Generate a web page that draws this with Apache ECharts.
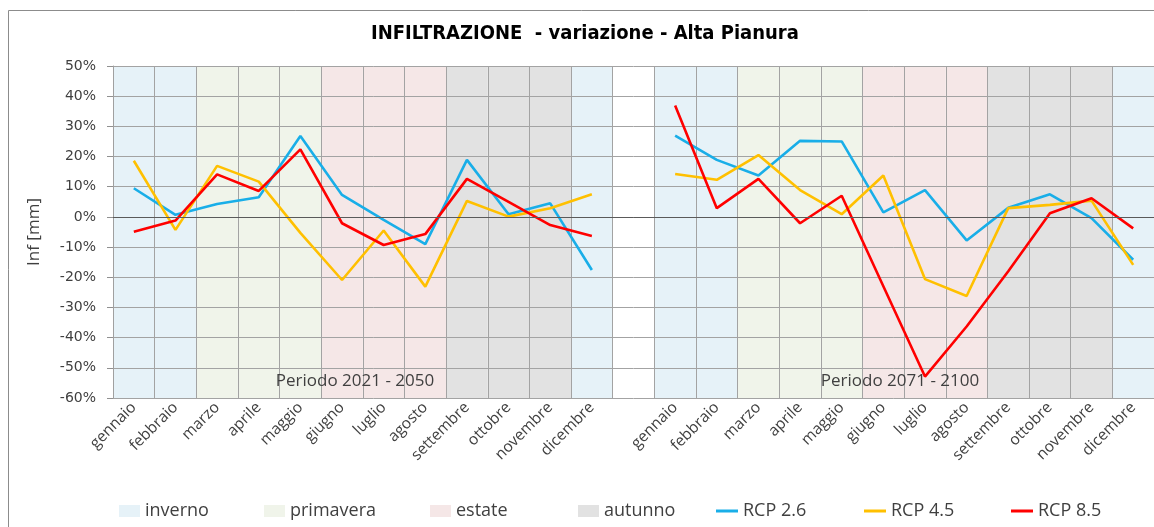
<!DOCTYPE html>
<html>
<head>
<meta charset="utf-8">
<title>Infiltrazione - Alta Pianura</title>
<script src="https://cdn.jsdelivr.net/npm/echarts@6/dist/echarts.min.js"></script>
<style>
  html, body { margin: 0; padding: 0; background: #fff; }
  #chart { width: 1154px; height: 527px; }
</style>
</head>
<body>
<div id="chart"></div>
<script>
// mesi e stagioni
const months = ['gennaio', 'febbraio', 'marzo', 'aprile', 'maggio', 'giugno',
  'luglio', 'agosto', 'settembre', 'ottobre', 'novembre', 'dicembre']
const seasonOfMonth = ['inverno', 'inverno', 'primavera', 'primavera', 'primavera', 'estate',
  'estate', 'estate', 'autunno', 'autunno', 'autunno', 'inverno']
const seasons = ['inverno', 'primavera', 'estate', 'autunno']
const seasonColors = ['#E6F2F8', '#F0F4EA', '#F5E7E7', '#E2E2E2']

// variazione percentuale, periodo 2021 - 2050
const rcp26P1 = [9.5, 0.7, 4.3, 6.5, 26.8, 7.3, -1, -9, 18.9, 0.9, 4.5, -17.6]
const rcp45P1 = [18.6, -4.3, 16.9, 11.7, -5.3, -20.9, -4.5, -23.1, 5.3, 0.1, 2.9, 7.5]
const rcp85P1 = [-4.9, -1.2, 14.1, 8.6, 22.4, -2.1, -9.3, -5.7, 12.6, 5, -2.7, -6.3]
// periodo 2071 - 2100
const rcp26P2 = [26.9, 18.9, 13.7, 25.2, 25, 1.5, 8.9, -7.8, 3, 7.5, -0.4, -14.2]
const rcp45P2 = [14.2, 12.3, 20.5, 8.9, 0.9, 13.7, -20.6, -26.2, 2.9, 4, 5.4, -15.9]
const rcp85P2 = [36.9, 2.9, 12.6, -2.1, 7, -23, -52.9, -36.3, -18, 1.2, 6.2, -3.8]

const yTicks = { min: -60, max: 50, interval: 10 }
const periodLabels = ['Periodo 2021 - 2050', 'Periodo 2071 - 2100']

// asse x: 12 mesi, una colonna vuota, 12 mesi
const categories = [...months, '', ...months]
const joinPeriods = (a, b) => [...a, null, ...b]

const lineFont = 'Open Sans'

const chart = echarts.init(document.getElementById('chart'))

// bande di sfondo per stagione (asse y nascosto 0..1)
const seasonSeries = seasons.map((s, i) => ({
  name: s,
  type: 'bar',
  yAxisIndex: 1,
  stack: 'bg',
  z: 0,
  silent: true,
  barCategoryGap: '0%',
  itemStyle: { color: seasonColors[i] },
  emphasis: { disabled: true },
  data: joinPeriods(
    seasonOfMonth.map(m => (m === s ? 1 : null)),
    seasonOfMonth.map(m => (m === s ? 1 : null))
  )
}))

const rcp = [
  { name: 'RCP 2.6', color: '#19AEE8', data: joinPeriods(rcp26P1, rcp26P2) },
  { name: 'RCP 4.5', color: '#FFC000', data: joinPeriods(rcp45P1, rcp45P2) },
  { name: 'RCP 8.5', color: '#FF0000', data: joinPeriods(rcp85P1, rcp85P2) }
]
const lineSeries = rcp.map((r, i) => ({
  name: r.name,
  type: 'line',
  z: 3,
  symbol: 'none',
  connectNulls: false,
  lineStyle: { color: r.color, width: 2.6 },
  itemStyle: { color: r.color },
  data: r.data,
  markLine: i === 0 ? {
    silent: true,
    symbol: ['none', 'none'],
    label: { show: false },
    lineStyle: { color: '#5a5a5a', type: 'solid', width: 1 },
    data: [{ yAxis: 0 }]
  } : undefined
}))

// legende posizionate una per una come nell'originale
const legendX = [114, 259, 425, 573, 711, 859, 1006]
const legendNames = [...seasons, ...rcp.map(r => r.name)]
const legends = legendNames.map((n, i) => ({
  data: [n],
  left: legendX[i],
  top: 497,
  icon: 'rect',
  itemWidth: i < 4 ? 21 : 22,
  itemHeight: i < 4 ? 12 : 3,
  selectedMode: false,
  textStyle: { fontFamily: lineFont, fontSize: 18, color: '#404040' }
}))

const option = {
  animation: false,
  title: {
    text: 'INFILTRAZIONE  - variazione - Alta Pianura',
    left: 366,
    top: 19,
    textStyle: {
      fontFamily: 'Liberation Sans Narrow, DejaVu Sans Condensed, sans-serif',
      fontSize: 20,
      fontWeight: 'bold',
      color: '#000'
    }
  },
  legend: legends,
  grid: { left: 113, top: 66, right: 0, bottom: 129 },
  xAxis: {
    type: 'category',
    data: categories,
    boundaryGap: true,
    z: 1,
    axisLine: { lineStyle: { color: '#A0A0A0' } },
    axisTick: { show: false },
    splitLine: { show: true, lineStyle: { color: '#A3A3A3', width: 1 } },
    axisLabel: {
      interval: 0,
      rotate: 45,
      margin: 7,
      fontFamily: lineFont,
      fontSize: 15.5,
      color: '#404040'
    }
  },
  yAxis: [
    {
      type: 'value',
      min: yTicks.min,
      max: yTicks.max,
      interval: yTicks.interval,
      z: 1,
      name: 'Inf [mm]',
      nameLocation: 'middle',
      nameGap: 70,
      nameTextStyle: { fontFamily: lineFont, fontSize: 17, color: '#404040' },
      axisLine: { show: true, lineStyle: { color: '#A0A0A0' } },
      axisTick: { show: true, length: 6, lineStyle: { color: '#909090' } },
      splitLine: { show: true, lineStyle: { color: '#A3A3A3', width: 1 } },
      axisLabel: {
        formatter: '{value}%',
        margin: 17,
        fontFamily: 'DejaVu Sans',
        fontSize: 14,
        color: '#404040'
      }
    },
    { type: 'value', min: 0, max: 1, show: false }
  ],
  graphic: [
    {
      type: 'rect',
      silent: true,
      z: 100,
      shape: { x: 8.5, y: 10.5, width: 1200, height: 600 },
      style: { fill: 'none', stroke: '#8c8c8c', lineWidth: 1 }
    },
    {
      type: 'text',
      silent: true,
      z: 100,
      x: 355,
      y: 381,
      style: {
        text: periodLabels[0], fontFamily: lineFont, fontSize: 17, fill: '#404040',
        align: 'center', verticalAlign: 'middle'
      }
    },
    {
      type: 'text',
      silent: true,
      z: 100,
      x: 900,
      y: 381,
      style: {
        text: periodLabels[1], fontFamily: lineFont, fontSize: 17, fill: '#404040',
        align: 'center', verticalAlign: 'middle'
      }
    }
  ],
  series: [...seasonSeries, ...lineSeries]
}

chart.setOption(option)
</script>
</body>
</html>
